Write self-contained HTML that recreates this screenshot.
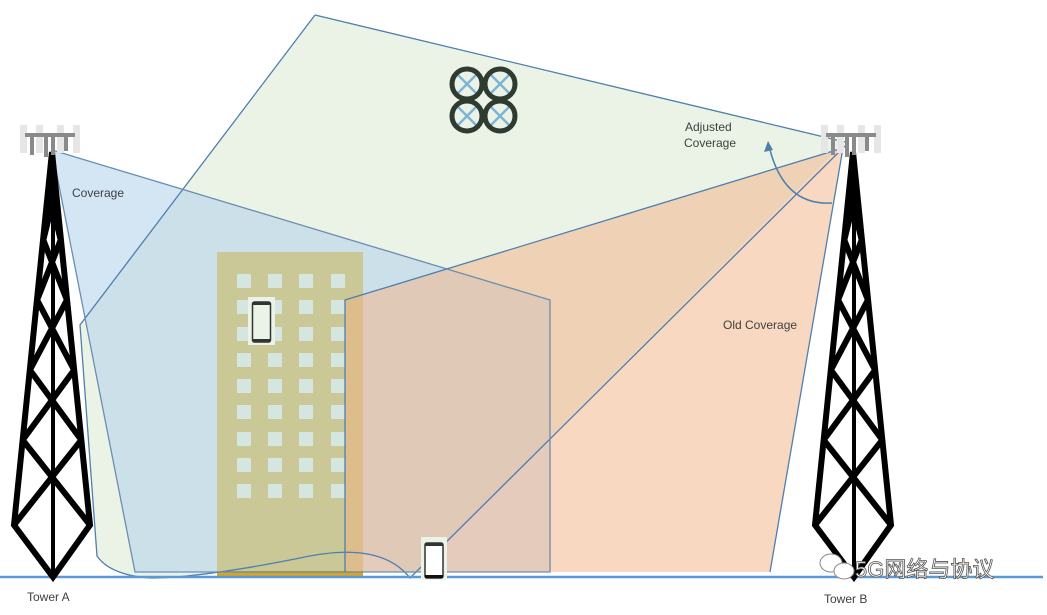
<!DOCTYPE html>
<html><head><meta charset="utf-8"><style>
html,body{margin:0;padding:0;background:#fff;}
svg{display:block;font-family:"Liberation Sans","Noto Sans CJK SC",sans-serif;}
</style></head><body>
<svg width="1047" height="615" viewBox="0 0 1047 615" xmlns="http://www.w3.org/2000/svg">
<defs>
<g id="tower">
  <g stroke="#000" stroke-width="6" fill="none" stroke-linejoin="miter">
    <path d="M52,152 L14,525 L53,577 L90,525 Z"/>
    <line x1="53" y1="152" x2="53" y2="577" stroke-width="4"/>
    <path d="M48.4,190 L60.7,240 M55.6,190 L43.3,240 M43.3,240 L66.9,300 M60.7,240 L37.1,300 M37.1,300 L74.1,370 M66.9,300 L29.9,370 M29.9,370 L81.3,440 M74.1,370 L22.7,440 M22.7,440 L90,525 M81.3,440 L14,525"/>
  </g>
  <g fill="#e6e6e6">
    <rect x="20" y="125" width="7" height="28"/>
    <rect x="36" y="125" width="7" height="28"/>
    <rect x="57" y="125" width="7" height="28"/>
    <rect x="73" y="125" width="7" height="28"/>
  </g>
  <g fill="#8a8a8a">
    <rect x="25" y="133" width="50" height="4"/>
    <rect x="30" y="133" width="4" height="22"/>
    <rect x="44" y="133" width="4" height="24"/>
    <rect x="51" y="133" width="4" height="22"/>
    <rect x="64" y="133" width="4" height="18"/>
  </g>
</g>
</defs>

<path d="M315,15 L845,142 L410,578 Q380,540 300,558 Q200,578 150,578 Q110,575 97,556 L80,325 Z" fill="#ebf3e6"/>
<path d="M52,150 L550,300 L550,572 L135,572 Z" fill="#b8d4ec" fill-opacity="0.6"/>
<rect x="217" y="252" width="146" height="326" fill="#c9c896"/>
<rect x="217" y="571" width="146" height="7" fill="#d9a520"/>
<g fill="#d5e6e0">
  <rect x="237" y="274" width="14" height="14"/><rect x="268" y="274" width="14" height="14"/><rect x="299" y="274" width="14" height="14"/><rect x="331" y="274" width="14" height="14"/>
  <rect x="237" y="300" width="14" height="14"/><rect x="268" y="300" width="14" height="14"/><rect x="299" y="300" width="14" height="14"/><rect x="331" y="300" width="14" height="14"/>
  <rect x="237" y="327" width="14" height="14"/><rect x="268" y="327" width="14" height="14"/><rect x="299" y="327" width="14" height="14"/><rect x="331" y="327" width="14" height="14"/>
  <rect x="237" y="353" width="14" height="14"/><rect x="268" y="353" width="14" height="14"/><rect x="299" y="353" width="14" height="14"/><rect x="331" y="353" width="14" height="14"/>
  <rect x="237" y="379" width="14" height="14"/><rect x="268" y="379" width="14" height="14"/><rect x="299" y="379" width="14" height="14"/><rect x="331" y="379" width="14" height="14"/>
  <rect x="237" y="405" width="14" height="14"/><rect x="268" y="405" width="14" height="14"/><rect x="299" y="405" width="14" height="14"/><rect x="331" y="405" width="14" height="14"/>
  <rect x="237" y="432" width="14" height="14"/><rect x="268" y="432" width="14" height="14"/><rect x="299" y="432" width="14" height="14"/><rect x="331" y="432" width="14" height="14"/>
  <rect x="237" y="458" width="14" height="14"/><rect x="268" y="458" width="14" height="14"/><rect x="299" y="458" width="14" height="14"/><rect x="331" y="458" width="14" height="14"/>
  <rect x="237" y="484" width="14" height="14"/><rect x="268" y="484" width="14" height="14"/><rect x="299" y="484" width="14" height="14"/><rect x="331" y="484" width="14" height="14"/>
</g>
<path d="M843,148 L345,300 L345,572 L770,572 Z" fill="#f4b183" fill-opacity="0.5"/>

<g fill="none" stroke="#4e7fae" stroke-width="1.3">
  <path d="M315,15 L845,142 M845,146 L410,578 Q380,540 300,558 Q200,578 150,578 Q110,575 97,556 L80,325 L315,15"/>
  <path d="M52,150 L550,300 L550,572 L135,572 Z" stroke="#6a8fb0"/>
  <path d="M843,148 L345,300 L345,572 M843,148 L770,572"/>
</g>
<path d="M832,203 Q785,206 770,150" fill="none" stroke="#4e7fae" stroke-width="1.5"/>
<path d="M768,141 L764,152 L773,150 Z" fill="#4e7fae"/>

<line x1="0" y1="577" x2="1043" y2="577" stroke="#5b9bd5" stroke-width="2.5"/>

<rect x="248" y="297" width="27" height="48" fill="#ebf3e6"/>
<rect x="252.5" y="302" width="18" height="40" rx="2" fill="#ebf3e6" stroke="#333" stroke-width="1.5"/>
<rect x="252.5" y="302" width="18" height="3" fill="#333"/><rect x="252.5" y="339" width="18" height="3" fill="#333"/>
<rect x="421" y="537" width="26" height="43" fill="#ebf3e6"/>
<rect x="425" y="543" width="18" height="35" rx="2" fill="#fff" stroke="#333" stroke-width="1.5"/>
<rect x="425" y="543" width="18" height="3" fill="#333"/><rect x="425" y="575" width="18" height="3" fill="#111"/>

<g stroke="#7fb3d5" stroke-width="2.5">
  <path d="M457,74 L477,94 M477,74 L457,94 M490,74 L510,94 M510,74 L490,94 M457,106 L477,126 M477,106 L457,126 M490,106 L510,126 M510,106 L490,126"/>
</g>
<g fill="none" stroke="#2f3a30" stroke-width="5">
  <circle cx="467" cy="84" r="15"/><circle cx="500" cy="84" r="15"/>
  <circle cx="467" cy="116" r="15"/><circle cx="500" cy="116" r="15"/>
</g>

<use href="#tower"/>
<use href="#tower" transform="translate(801,0)"/>

<g fill="#404040" font-size="12">
  <text x="72" y="197">Coverage</text>
  <text x="685" y="131">Adjusted</text>
  <text x="684" y="147">Coverage</text>
  <text x="723" y="329">Old Coverage</text>
  <text x="27" y="601">Tower A</text>
  <text x="824" y="603">Tower B</text>
</g>
<g fill="#fff" stroke="#888" stroke-width="1">
  <ellipse cx="831" cy="563" rx="11" ry="9"/>
  <ellipse cx="844" cy="571" rx="10" ry="8"/>
</g>
<text x="855" y="577" font-size="22" fill="#fff" stroke="#555" stroke-width="0.8">5G网络与协议</text>
</svg>
</body></html>
